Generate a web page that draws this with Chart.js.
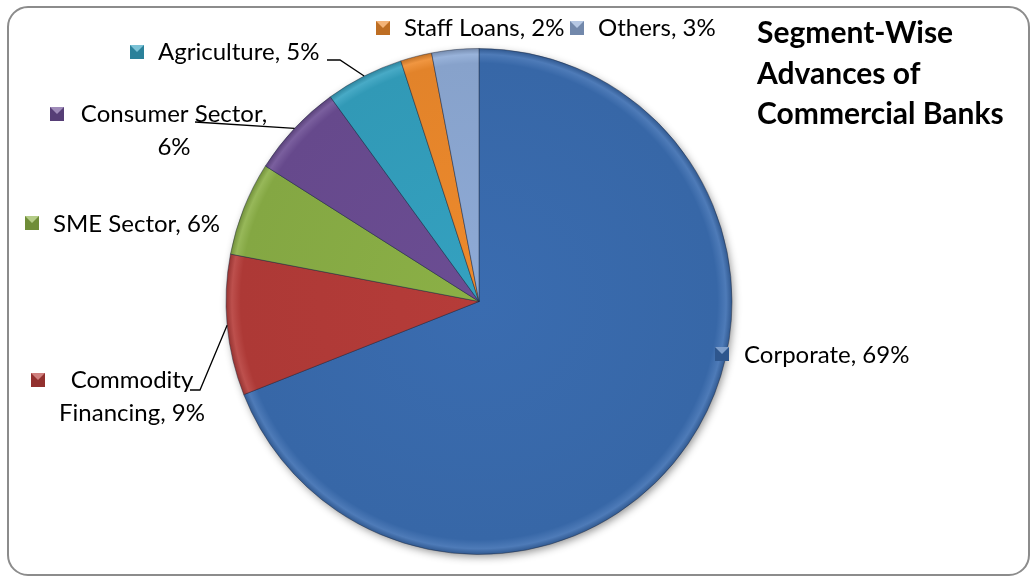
<!DOCTYPE html>
<html>
<head>
<meta charset="utf-8">
<script src="https://cdn.jsdelivr.net/npm/chart.js@4"></script>
<style>
  html, body { margin: 0; padding: 0; background: #fff; }
  #wrap { width: 1036px; height: 577px; }
</style>
</head>
<body>
<div id="wrap"><canvas id="myChart" width="1036" height="577"></canvas></div>
<script>
// segment-wise share of advances, %
const segments = ["Corporate", "Commodity Financing", "SME Sector", "Consumer Sector", "Agriculture", "Staff Loans", "Others"];
const shares = [69, 9, 6, 6, 5, 2, 3];
const sliceColors = ["#3a6cb0", "#b63c39", "#8bb046", "#6b4d93", "#34a1c0", "#ee8a2c", "#8eaad6"];
const titleLines = ["Segment-Wise", "Advances of", "Commercial Banks"];

const FONT = "Lato, 'Noto Sans', sans-serif";

// where each data label sits (text lines, marker, optional leader elbow)
const labelLayout = [
  { lines: ["Corporate, 69%"], marker: [722, 354], x: 744, y: 355, align: "left" },
  { lines: ["Commodity", "Financing, 9%"], marker: [38, 380], x: 132, y: 380, align: "center", leader: [[190, 390], [200, 390]] },
  { lines: ["SME Sector, 6%"], marker: [32, 223], x: 53, y: 224, align: "left" },
  { lines: ["Consumer Sector,", "6%"], marker: [57, 114], x: 174, y: 114, align: "center", leader: [[195, 122]] },
  { lines: ["Agriculture, 5%"], marker: [137, 52], x: 158, y: 52, align: "left", leader: [[327, 60], [340, 60]] },
  { lines: ["Staff Loans, 2%"], marker: [383, 28], x: 404, y: 28, align: "left" },
  { lines: ["Others, 3%"], marker: [577, 28], x: 598, y: 28, align: "left" }
];

function shade(hex, amt) {
  let n = parseInt(hex.slice(1), 16);
  let r = (n >> 16) & 255, g = (n >> 8) & 255, b = n & 255;
  const f = v => Math.max(0, Math.min(255, Math.round(amt > 0 ? v + (255 - v) * amt : v * (1 + amt))));
  return `rgb(${f(r)},${f(g)},${f(b)})`;
}

function sliceFill(c) {
  const base = sliceColors[c.dataIndex];
  const area = c.chart.chartArea;
  if (!area) return base;
  const cx = (area.left + area.right) / 2, cy = (area.top + area.bottom) / 2;
  const r = Math.min(area.right - area.left, area.bottom - area.top) / 2;
  const g = c.chart.ctx.createRadialGradient(cx, cy, 0, cx, cy, r);
  g.addColorStop(0, base);
  g.addColorStop(0.94, shade(base, -0.05));
  g.addColorStop(0.975, shade(base, 0.1));
  g.addColorStop(1, shade(base, -0.2));
  return g;
}

const frame = {
  id: "frame",
  beforeDraw(chart) {
    const ctx = chart.ctx;
    ctx.save();
    ctx.fillStyle = "#fff";
    ctx.fillRect(0, 0, chart.width, chart.height);
    ctx.strokeStyle = "#8c8c8c";
    ctx.lineWidth = 2;
    ctx.beginPath();
    ctx.roundRect(8, 7, 1021, 568, 20);
    ctx.stroke();
    ctx.restore();
  },
  beforeDatasetsDraw(chart) {
    const arc = chart.getDatasetMeta(0).data[0];
    if (!arc) return;
    const ctx = chart.ctx;
    ctx.save();
    ctx.shadowColor = "rgba(0,0,0,0.45)";
    ctx.shadowBlur = 8;
    ctx.shadowOffsetX = 2;
    ctx.shadowOffsetY = 3;
    ctx.fillStyle = "#2f5a94";
    ctx.beginPath();
    ctx.arc(arc.x, arc.y, arc.outerRadius - 1, 0, Math.PI * 2);
    ctx.fill();
    ctx.restore();
  }
};

function drawMarker(ctx, cx, cy, color) {
  const s = 7;
  ctx.save();
  ctx.fillStyle = shade(color, -0.2);
  ctx.fillRect(cx - s, cy - s, 2 * s, 2 * s);
  ctx.fillStyle = shade(color, 0.35);
  ctx.beginPath();
  ctx.moveTo(cx - s, cy - s); ctx.lineTo(cx + s, cy - s); ctx.lineTo(cx, cy); ctx.closePath();
  ctx.fill();
  ctx.restore();
}

const labels = {
  id: "labels",
  afterDatasetsDraw(chart) {
    const ctx = chart.ctx;
    const arcs = chart.getDatasetMeta(0).data;
    ctx.save();
    arcs.forEach((a, i) => {
      const lay = labelLayout[i];
      if (lay.leader) {
        const mid = (a.startAngle + a.endAngle) / 2;
        const ex = a.x + Math.cos(mid) * a.outerRadius;
        const ey = a.y + Math.sin(mid) * a.outerRadius;
        ctx.strokeStyle = "#000";
        ctx.lineWidth = 1.3;
        ctx.beginPath();
        ctx.moveTo(lay.leader[0][0], lay.leader[0][1]);
        lay.leader.slice(1).forEach(p => ctx.lineTo(p[0], p[1]));
        ctx.lineTo(ex, ey);
        ctx.stroke();
      }
      drawMarker(ctx, lay.marker[0], lay.marker[1], sliceColors[i]);
      ctx.fillStyle = "#000";
      ctx.font = "24px " + FONT;
      ctx.textBaseline = "middle";
      ctx.textAlign = lay.align;
      lay.lines.forEach((t, k) => ctx.fillText(t, lay.x, lay.y + k * 33));
    });
    ctx.font = "bold 30px " + FONT;
    ctx.textAlign = "left";
    ctx.textBaseline = "alphabetic";
    titleLines.forEach((t, k) => ctx.fillText(t, 757, 43 + k * 40.5));
    ctx.restore();
  }
};

new Chart(document.getElementById("myChart"), {
  type: "pie",
  data: {
    labels: segments,
    datasets: [{
      data: shares,
      backgroundColor: sliceFill,
      borderColor: "rgba(30,40,60,0.45)",
      borderWidth: 1
    }]
  },
  options: {
    responsive: false,
    animation: false,
    events: [],
    layout: { padding: { left: 200, right: 278, top: 48, bottom: 22 } },
    plugins: { legend: { display: false }, tooltip: { enabled: false }, title: { display: false } }
  },
  plugins: [frame, labels]
});
</script>
</body>
</html>
